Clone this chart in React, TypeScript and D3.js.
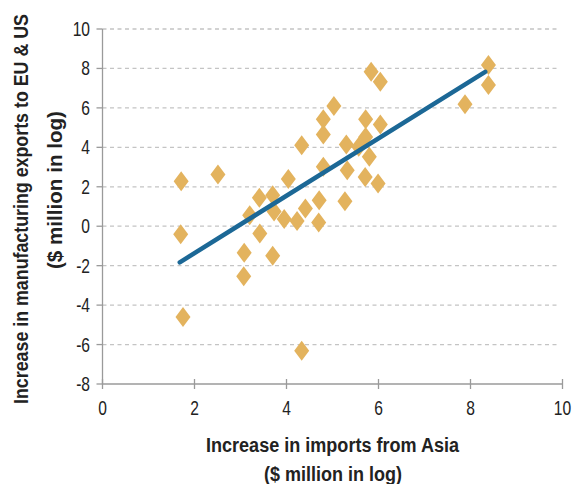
import React from "react";
import * as d3 from "d3";

const importsX = [1.71, 2.51, 5.03, 4.8, 4.8, 4.33, 4.8, 4.04, 3.41, 3.7, 4.71, 3.2, 3.73, 4.41, 3.95, 4.23, 4.7, 3.42, 1.7, 3.08, 3.7, 3.07, 1.75, 4.33, 8.39, 8.39, 7.88, 5.84, 6.04, 5.72, 6.04, 5.72, 5.3, 5.57, 5.8, 5.32, 5.71, 5.99, 5.27];
const exportsY = [2.28, 2.62, 6.1, 5.43, 4.65, 4.1, 3.01, 2.39, 1.44, 1.57, 1.32, 0.56, 0.75, 0.9, 0.37, 0.27, 0.19, -0.37, -0.41, -1.35, -1.5, -2.54, -4.6, -6.31, 8.17, 7.16, 6.19, 7.83, 7.33, 5.42, 5.16, 4.53, 4.15, 4.03, 3.52, 2.84, 2.5, 2.17, 1.27];
const trendX = [1.68, 8.32];
const trendY = [-1.83, 7.83];
const xTicks = [0, 2, 4, 6, 8, 10];
const yTicks = [10, 8, 6, 4, 2, 0, -2, -4, -6, -8];
const xTitle = ["Increase in imports from Asia", "($ million in log)"];
const yTitle = ["Increase in manufacturing exports to EU & US", "($ million in log)"];

const FONT = "'Liberation Sans', Arial, sans-serif";

export default function App() {
  const W = 573, H = 484;
  const x = d3.scaleLinear().domain([0, 10]).range([102.5, 562.5]);
  const y = d3.scaleLinear().domain([-8, 10]).range([384, 29]);
  const diamond = (cx: number, cy: number) => {
    const hw = 7.5, hh = 10;
    return `M${cx},${cy - hh}L${cx + hw},${cy}L${cx},${cy + hh}L${cx - hw},${cy}Z`;
  };
  const line = d3.line<number>().x((_, i) => x(trendX[i])).y((_, i) => y(trendY[i]));
  const sx = 0.8;
  return (
    <svg width={W} height={H} style={{ position: "absolute", left: 0, top: 0, background: "#fff" }} fontFamily={FONT}>
      {yTicks.filter((t) => t !== -8).map((t) => (
        <line key={"g" + t} x1={x(0)} x2={560} y1={y(t)} y2={y(t)} stroke="#c4c4c4" strokeWidth={1.3} strokeDasharray="4,3.5" />
      ))}
      <line x1={x(0)} x2={x(0)} y1={y(10)} y2={y(-8)} stroke="#9a9a9a" strokeWidth={1.3} />
      <line x1={x(0)} x2={x(10)} y1={y(-8)} y2={y(-8)} stroke="#9a9a9a" strokeWidth={1.3} />
      {yTicks.map((t) => (
        <g key={"y" + t}>
          <line x1={x(0) - 6} x2={x(0)} y1={y(t)} y2={y(t)} stroke="#9a9a9a" strokeWidth={1.3} />
          <text transform={`translate(90,${y(t)}) scale(${sx},1)`} dy="0.36em" textAnchor="end" fontSize={19.5} fill="#222">{t}</text>
        </g>
      ))}
      {xTicks.map((t) => (
        <g key={"x" + t}>
          <line x1={x(t)} x2={x(t)} y1={y(-8) - 5} y2={y(-8) + 5} stroke="#9a9a9a" strokeWidth={1.3} />
          <text transform={`translate(${x(t)},408) scale(${sx},1)`} dy="0.36em" textAnchor="middle" fontSize={19.5} fill="#222">{t}</text>
        </g>
      ))}
      {importsX.map((v, i) => (
        <path key={"p" + i} d={diamond(x(v), y(exportsY[i]))} fill="#e3b35e" />
      ))}
      <path d={line([0, 1]) || ""} stroke="#1c6896" strokeWidth={4.5} fill="none" strokeLinecap="round" />
      <text x={206} y={452} textLength={253} lengthAdjust="spacingAndGlyphs" fontSize={19.5} fontWeight="bold" fill="#222">{xTitle[0]}</text>
      <text x={264} y={481} textLength={138} lengthAdjust="spacingAndGlyphs" fontSize={19.5} fontWeight="bold" fill="#222">{xTitle[1]}</text>
      <text transform="translate(28,404) rotate(-90)" textLength={390} lengthAdjust="spacingAndGlyphs" fontSize={19.5} fontWeight="bold" fill="#222">{yTitle[0]}</text>
      <text transform="translate(62,269) rotate(-90)" textLength={158} lengthAdjust="spacingAndGlyphs" fontSize={19.5} fontWeight="bold" fill="#222">{yTitle[1]}</text>
    </svg>
  );
}
